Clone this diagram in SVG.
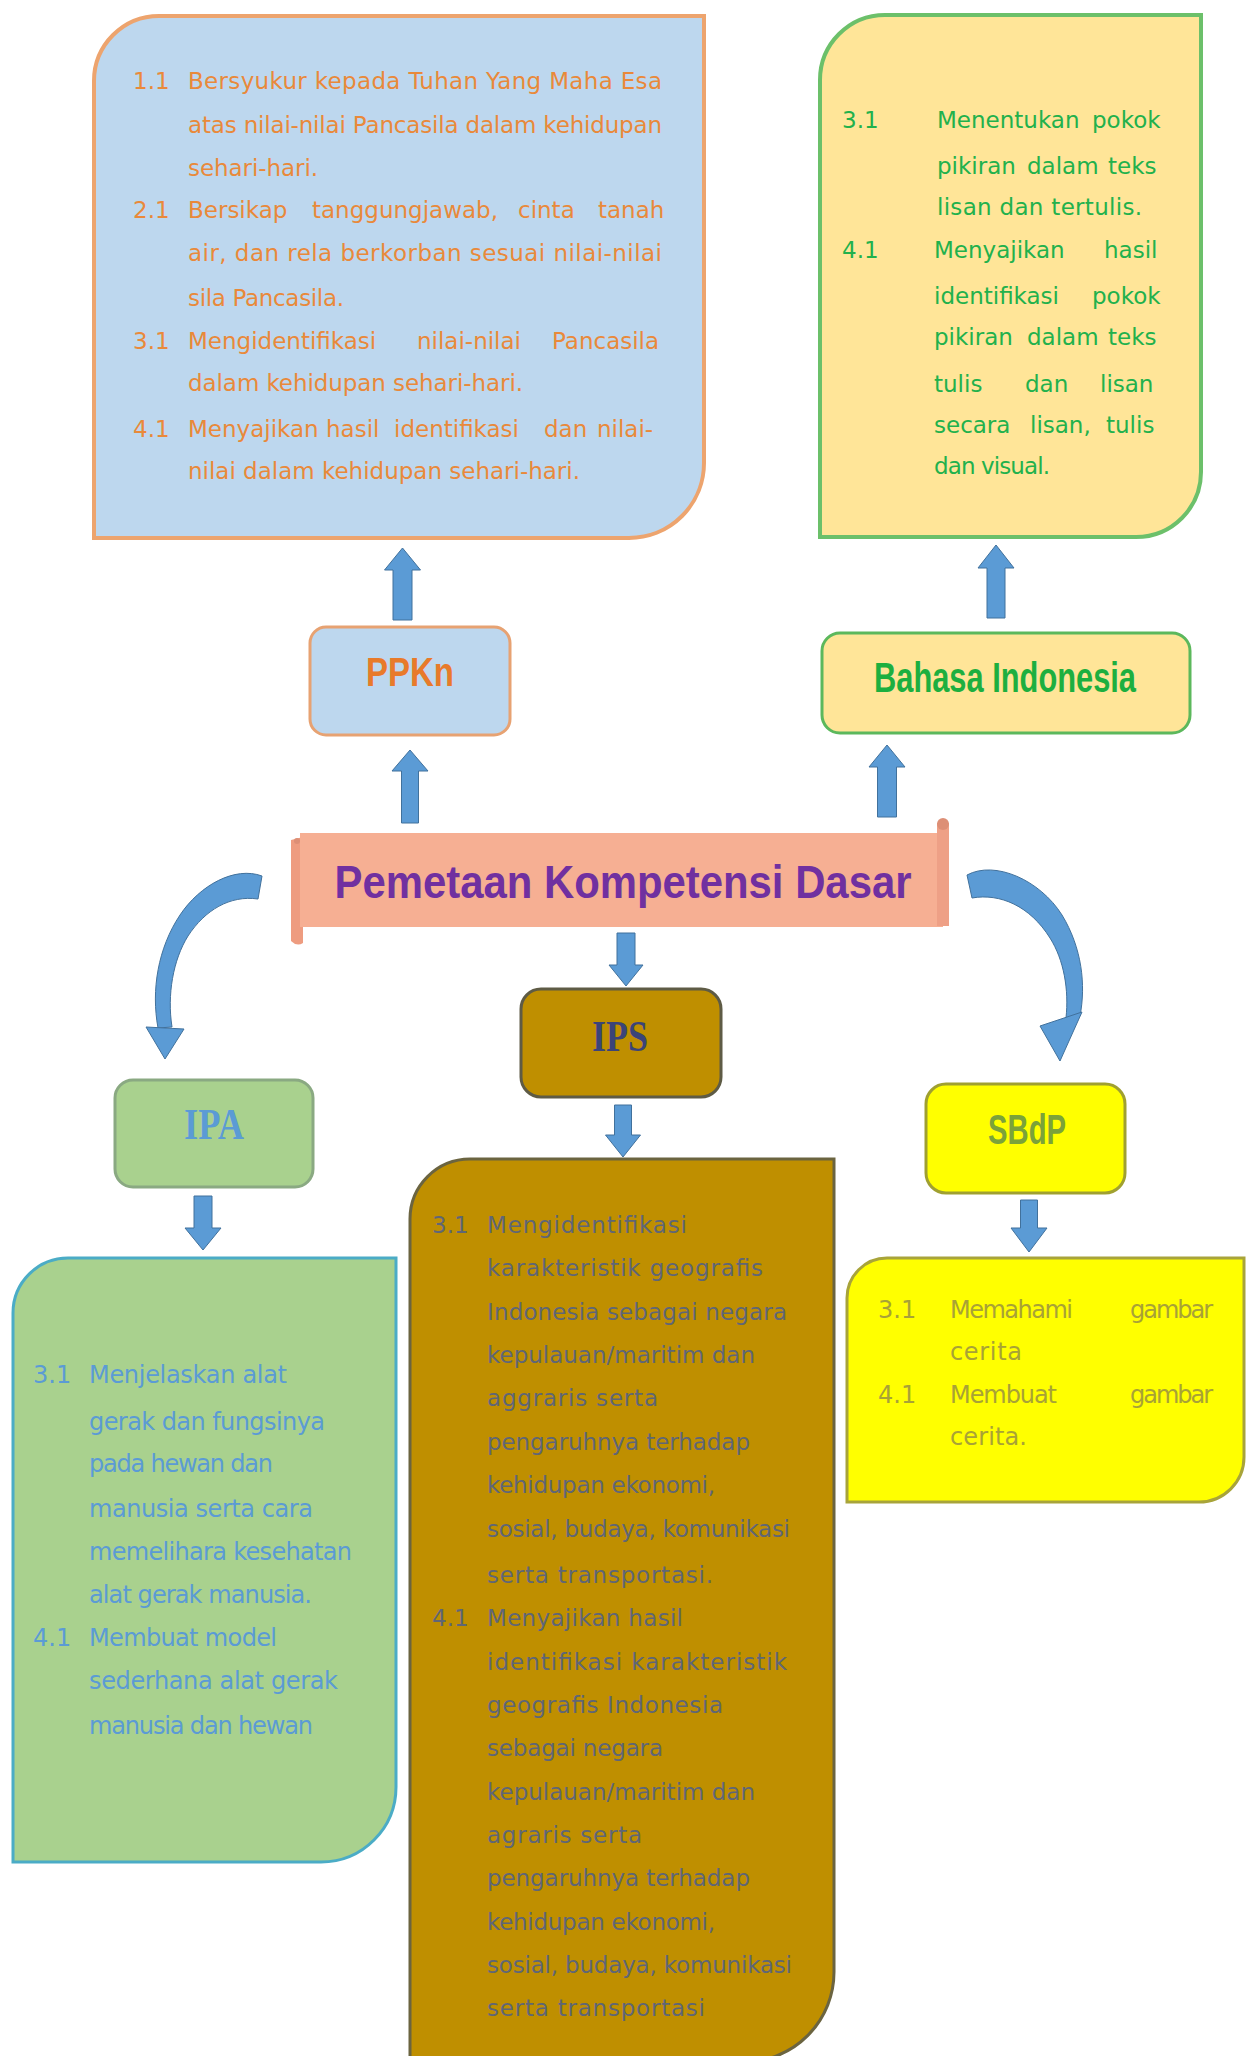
<svg xmlns="http://www.w3.org/2000/svg" width="1246" height="2056" viewBox="0 0 1246 2056">
<style>
.b{font-family:"DejaVu Sans","Liberation Sans",sans-serif}
.pp{fill:#E9893A;font-size:23px}
.bi{fill:#22B14C;font-size:23px}
.ipa{fill:#5B9BD5;font-size:24px}
.ips{fill:#5F6676;font-size:23px}
.sb{fill:#A8A236;font-size:24px}
.lbl{font-family:"Liberation Sans",Arial,sans-serif;font-weight:bold;text-anchor:middle}
.lbs{font-family:"Liberation Serif","Times New Roman",serif;font-weight:bold;text-anchor:middle}
.arr{fill:#5B9BD5;stroke:#41719C;stroke-width:1}
</style>
<rect width="1246" height="2056" fill="#ffffff"/>

<g id="ppkn-content">
<path d="M94,81 A65,65 0 0 1 159,16 L704,16 L704,463 A75,75 0 0 1 629,538 L94,538 Z" fill="#BDD7EE" stroke="#EDA46E" stroke-width="4"/>
<g class="b pp">
<text x="133" y="89">1.1</text>
<text x="188" y="89" textLength="474">Bersyukur kepada Tuhan Yang Maha Esa</text>
<text x="188" y="133" textLength="474">atas nilai-nilai Pancasila dalam kehidupan</text>
<text x="188" y="176" textLength="130">sehari-hari.</text>
<text x="133" y="218">2.1</text>
<text y="218"><tspan x="188">Bersikap</tspan><tspan x="312">tanggungjawab,</tspan><tspan x="518">cinta</tspan><tspan x="598">tanah</tspan></text>
<text x="188" y="261" textLength="474">air, dan rela berkorban sesuai nilai-nilai</text>
<text x="188" y="306" textLength="156">sila Pancasila.</text>
<text x="133" y="349">3.1</text>
<text y="349"><tspan x="188">Mengidentifikasi</tspan><tspan x="417">nilai-nilai</tspan><tspan x="552">Pancasila</tspan></text>
<text x="188" y="391" textLength="335">dalam kehidupan sehari-hari.</text>
<text x="133" y="437">4.1</text>
<text y="437"><tspan x="188">Menyajikan</tspan><tspan x="326">hasil</tspan><tspan x="394">identifikasi</tspan><tspan x="544">dan</tspan><tspan x="597">nilai-</tspan></text>
<text x="188" y="479" textLength="392">nilai dalam kehidupan sehari-hari.</text>
</g>
</g>

<g id="bahasa-content">
<path d="M820,80 A65,65 0 0 1 885,15 L1201,15 L1201,472 A65,65 0 0 1 1136,537 L820,537 Z" fill="#FFE598" stroke="#6CC06A" stroke-width="4"/>
<g class="b bi">
<text x="842" y="128">3.1</text>
<text y="128"><tspan x="937">Menentukan</tspan><tspan x="1092">pokok</tspan></text>
<text y="174"><tspan x="937">pikiran</tspan><tspan x="1027">dalam</tspan><tspan x="1108">teks</tspan></text>
<text x="937" y="215" textLength="205">lisan dan tertulis.</text>
<text x="842" y="258">4.1</text>
<text y="258"><tspan x="934">Menyajikan</tspan><tspan x="1104">hasil</tspan></text>
<text y="304"><tspan x="934">identifikasi</tspan><tspan x="1092">pokok</tspan></text>
<text y="345"><tspan x="934">pikiran</tspan><tspan x="1027">dalam</tspan><tspan x="1108">teks</tspan></text>
<text y="392"><tspan x="934">tulis</tspan><tspan x="1025">dan</tspan><tspan x="1100">lisan</tspan></text>
<text y="433"><tspan x="934">secara</tspan><tspan x="1030">lisan,</tspan><tspan x="1106">tulis</tspan></text>
<text x="934" y="474" textLength="116">dan visual.</text>
</g>
</g>

<g id="ppkn">
<rect x="310" y="627" width="200" height="108" rx="16" fill="#BDD7EE" stroke="#E7A272" stroke-width="3"/>
<text class="lbl" x="410" y="686" font-size="40" fill="#E87A2A" textLength="88" lengthAdjust="spacingAndGlyphs">PPKn</text>
</g>

<g id="bahasa">
<rect x="822" y="633" width="368" height="100" rx="18" fill="#FFE598" stroke="#5CB85C" stroke-width="3"/>
<text class="lbl" x="1005" y="692" font-size="42" fill="#1DAF3F" textLength="262" lengthAdjust="spacingAndGlyphs">Bahasa Indonesia</text>
</g>

<g id="title">
<path d="M291,840 L303,837 L303,943 Q297,947 291,941 Z" fill="#EE9C80"/>
<rect x="300" y="833" width="643" height="94" fill="#F6AF93"/>
<rect x="937" y="823" width="12" height="103" fill="#EEA086"/>
<circle cx="943" cy="824" r="6" fill="#DD8F76"/>
<circle cx="297" cy="841" r="3" fill="#DD8F76"/>
<text class="lbl" x="623" y="898" font-size="46" fill="#7030A0" textLength="577" lengthAdjust="spacingAndGlyphs">Pemetaan Kompetensi Dasar</text>
</g>

<g id="ips">
<rect x="521" y="989" width="200" height="108" rx="20" fill="#BF8F00" stroke="#5E5B45" stroke-width="3"/>
<text class="lbs" x="620" y="1051" font-size="44" fill="#3B4478" textLength="56" lengthAdjust="spacingAndGlyphs">IPS</text>
</g>

<g id="ipa">
<rect x="115" y="1080" width="198" height="107" rx="18" fill="#A9D18E" stroke="#8AA982" stroke-width="3"/>
<text class="lbs" x="214" y="1139" font-size="44" fill="#5B9BD5" textLength="60" lengthAdjust="spacingAndGlyphs">IPA</text>
</g>

<g id="sbdp">
<rect x="926" y="1084" width="199" height="109" rx="20" fill="#FFFF00" stroke="#A0A030" stroke-width="3"/>
<text class="lbl" x="1027" y="1144" font-size="42" fill="#7BA23A" textLength="78" lengthAdjust="spacingAndGlyphs">SBdP</text>
</g>

<g id="ipa-content">
<path d="M13,1313 A55,55 0 0 1 68,1258 L396,1258 L396,1787 A75,75 0 0 1 321,1862 L13,1862 Z" fill="#A9D18E" stroke="#4BACC6" stroke-width="3"/>
<g class="b ipa">
<text x="33" y="1383">3.1</text>
<text x="89" y="1383" textLength="198">Menjelaskan alat</text>
<text x="89" y="1430" textLength="236">gerak dan fungsinya</text>
<text x="89" y="1472" textLength="184">pada hewan dan</text>
<text x="89" y="1517" textLength="224">manusia serta cara</text>
<text x="89" y="1560" textLength="263">memelihara kesehatan</text>
<text x="89" y="1603" textLength="223">alat gerak manusia.</text>
<text x="33" y="1646">4.1</text>
<text x="89" y="1646" textLength="188">Membuat model</text>
<text x="89" y="1689" textLength="249">sederhana alat gerak</text>
<text x="89" y="1734" textLength="224">manusia dan hewan</text>
</g>
</g>

<g id="ips-content">
<path d="M410,1219 A60,60 0 0 1 470,1159 L834,1159 L834,1972 A90,90 0 0 1 744,2062 L410,2062 Z" fill="#BF8F00" stroke="#6B6440" stroke-width="3"/>
<g class="b ips">
<text x="432" y="1233">3.1</text>
<text x="487" y="1233" textLength="200">Mengidentifikasi</text>
<text x="487" y="1276" textLength="276">karakteristik geografis</text>
<text x="487" y="1320" textLength="300">Indonesia sebagai negara</text>
<text x="487" y="1363" textLength="268">kepulauan/maritim dan</text>
<text x="487" y="1406" textLength="171">aggraris serta</text>
<text x="487" y="1450" textLength="263">pengaruhnya terhadap</text>
<text x="487" y="1493" textLength="228">kehidupan ekonomi,</text>
<text x="487" y="1537" textLength="303">sosial, budaya, komunikasi</text>
<text x="487" y="1583" textLength="226">serta transportasi.</text>
<text x="432" y="1626">4.1</text>
<text x="487" y="1626" textLength="196">Menyajikan hasil</text>
<text x="487" y="1670" textLength="300">identifikasi karakteristik</text>
<text x="487" y="1713" textLength="236">geografis Indonesia</text>
<text x="487" y="1756" textLength="176">sebagai negara</text>
<text x="487" y="1800" textLength="268">kepulauan/maritim dan</text>
<text x="487" y="1843" textLength="155">agraris serta</text>
<text x="487" y="1886" textLength="263">pengaruhnya terhadap</text>
<text x="487" y="1930" textLength="228">kehidupan ekonomi,</text>
<text x="487" y="1973" textLength="305">sosial, budaya, komunikasi</text>
<text x="487" y="2016" textLength="218">serta transportasi</text>
</g>
</g>

<g id="sbdp-content">
<path d="M847,1298 A40,40 0 0 1 887,1258 L1244,1258 L1244,1457 A45,45 0 0 1 1199,1502 L847,1502 Z" fill="#FFFF00" stroke="#A8A43A" stroke-width="3"/>
<g class="b sb">
<text x="878" y="1318">3.1</text>
<text x="950" y="1318" textLength="123">Memahami</text>
<text x="1130" y="1318" textLength="83">gambar</text>
<text x="950" y="1360" textLength="72">cerita</text>
<text x="878" y="1403">4.1</text>
<text x="950" y="1403" textLength="107">Membuat</text>
<text x="1130" y="1403" textLength="83">gambar</text>
<text x="950" y="1445" textLength="77">cerita.</text>
</g>
</g>

<g id="connectors">
<polygon class="arr" points="402.5,548 420.5,570 412,570 412,620 393,620 393,570 384.5,570"/>
<polygon class="arr" points="996,545 1014,568 1005,568 1005,618 987,618 987,568 978,568"/>
<polygon class="arr" points="410,750 428,771 418.5,771 418.5,823 401.5,823 401.5,771 392,771"/>
<polygon class="arr" points="887,745 905,767 896.5,767 896.5,817 877.5,817 877.5,767 869,767"/>
<polygon class="arr" points="617,933 635,933 635,965 643,965 626,986 609,965 617,965"/>
<polygon class="arr" points="614.5,1105 631.5,1105 631.5,1135 640.5,1135 623,1157 605.5,1135 614.5,1135"/>
<polygon class="arr" points="194,1196 212,1196 212,1228 221,1228 203,1250 185,1228 194,1228"/>
<polygon class="arr" points="1020.5,1200 1037.5,1200 1037.5,1228 1047,1228 1029,1252 1011,1228 1020.5,1228"/>
<path class="arr" d="M262,876 C235,866 200,885 180,915 C158,948 151,990 158,1028 L172,1027 C167,995 173,960 188,936 C205,910 230,895 258,899 Z"/>
<polygon class="arr" points="146,1027 184,1029 165,1059"/>
<path class="arr" d="M967,875 C995,860 1040,880 1062,915 C1082,948 1086,985 1080,1016 L1066,1018 C1069,990 1064,960 1050,938 C1030,906 1000,893 972,898 Z"/>
<polygon class="arr" points="1040,1026 1082,1012 1060,1061"/>
</g>
</svg>
